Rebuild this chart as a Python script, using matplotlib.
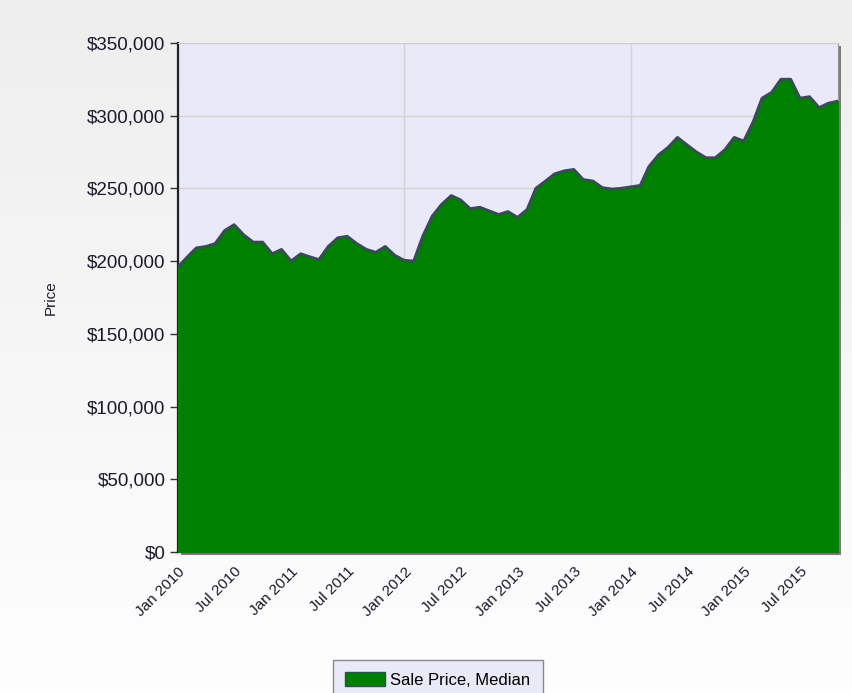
import numpy as np
import pandas as pd
import matplotlib
matplotlib.use("Agg")
import matplotlib.pyplot as plt
from matplotlib.patches import Rectangle, Patch
from matplotlib.ticker import FuncFormatter, MultipleLocator

# monthly median sale price, Jan 2010 - Nov 2015
months = pd.date_range("2010-01-01", "2015-11-01", freq="MS")
prices = [
    196000, 203000, 209000, 210000, 212000, 221000, 225000, 218000, 213000, 213000, 205000, 208000,
    200000, 205000, 203000, 201000, 210000, 216000, 217000, 212000, 208000, 206000, 210000, 204000,
    200500, 200000, 217000, 231000, 239000, 245000, 242000, 236000, 237000, 234500, 232000, 234000,
    230000, 235500, 250000, 255000, 260000, 262000, 263000, 256000, 255000, 250500, 249500, 250000,
    251000, 252000, 265000, 273000, 278000, 285000, 280000, 275000, 271000, 271000, 276500, 285000,
    282500, 296000, 312000, 316000, 325000, 325000, 312000, 313000, 305500, 308500, 310000,
]
series_name = "Sale Price, Median"
label_months = pd.date_range("2010-01-01", "2015-07-01", freq="6MS")
grid_months = pd.date_range("2012-01-01", "2014-01-01", freq="24MS")
mark_months = pd.date_range("2010-01-01", "2014-01-01", freq="24MS")

plt.rcParams['font.family'] = ['Liberation Sans', 'DejaVu Sans']
txt = "#1a1a2a"

fig = plt.figure(figsize=(8.52, 6.93), dpi=100)

# figure background: light gray fading to white
bg = fig.add_axes([0, 0, 1, 1], zorder=-10)
grad = np.linspace(0, 1, 256).reshape(-1, 1)
bg.imshow(grad, aspect="auto", cmap=matplotlib.colors.LinearSegmentedColormap.from_list(
    "bg", ["#eeeeee", "#fefefe"]), extent=[0, 1, 0, 1])
bg.axis("off")

x0, x1 = 178 / 852, 838 / 852
y0, y1 = 1 - 552 / 693, 1 - 43 / 693
# drop shadow behind plot area
fig.patches.append(Rectangle((x0 + 3 / 852, y0 - 3 / 693), x1 - x0, y1 - y0,
                             transform=fig.transFigure, facecolor="#7a7a7a",
                             edgecolor="none", zorder=-5))

ax = fig.add_axes([x0, y0, x1 - x0, y1 - y0])
ax.set_facecolor("#e9e9f7")

ax.fill_between(months, prices, 0, color="#008000", zorder=3)
ax.plot(months, prices, color="#3a4a58", lw=2.2, zorder=4)

ax.set_xlim(months[0], months[-1])
ax.set_ylim(0, 350000)

ax.yaxis.set_major_locator(MultipleLocator(50000))
ax.yaxis.set_major_formatter(FuncFormatter(lambda v, p: "${:,.0f}".format(v)))
ax.grid(axis="y", color="#d4d4d4", lw=1, zorder=1)
for m in grid_months:
    ax.axvline(m, color="#d4d4d4", lw=1, zorder=1)

ax.set_xticks(label_months)
ax.set_xticklabels([m.strftime("%b %Y") for m in label_months], rotation=45,
                   ha="right", rotation_mode="anchor", fontsize=11, color=txt)
ax.tick_params(axis="x", which="major", length=0, pad=9)
ax.set_xticks(mark_months, minor=True)
ax.tick_params(axis="x", which="minor", length=6, width=1, color="#333333")
ax.tick_params(axis="y", length=6, width=1, color="#333333", labelsize=13.5,
               labelcolor=txt, pad=3)

ax.set_ylabel("Price", fontsize=11, color=txt, labelpad=21)

for s in ["left", "bottom"]:
    ax.spines[s].set_color("#222222")
    ax.spines[s].set_linewidth(1.6)
ax.spines["top"].set_color("#cfcfcf")
ax.spines["right"].set_color("#9a9a9a")

leg = fig.legend(handles=[Patch(facecolor="#008000", edgecolor="#2f4f4f", label=series_name)],
                 loc="upper center", bbox_to_anchor=(438 / 852, 1 - 660 / 693),
                 fontsize=12, frameon=True, fancybox=False, handlelength=2.4,
                 handleheight=0.9, handletextpad=0.3, borderpad=0.75, borderaxespad=0)
leg.get_frame().set_facecolor("#e9e9f7")
leg.get_frame().set_edgecolor("#8a8a8a")
leg.get_frame().set_alpha(1)

fig.savefig("out.png", dpi=100)
